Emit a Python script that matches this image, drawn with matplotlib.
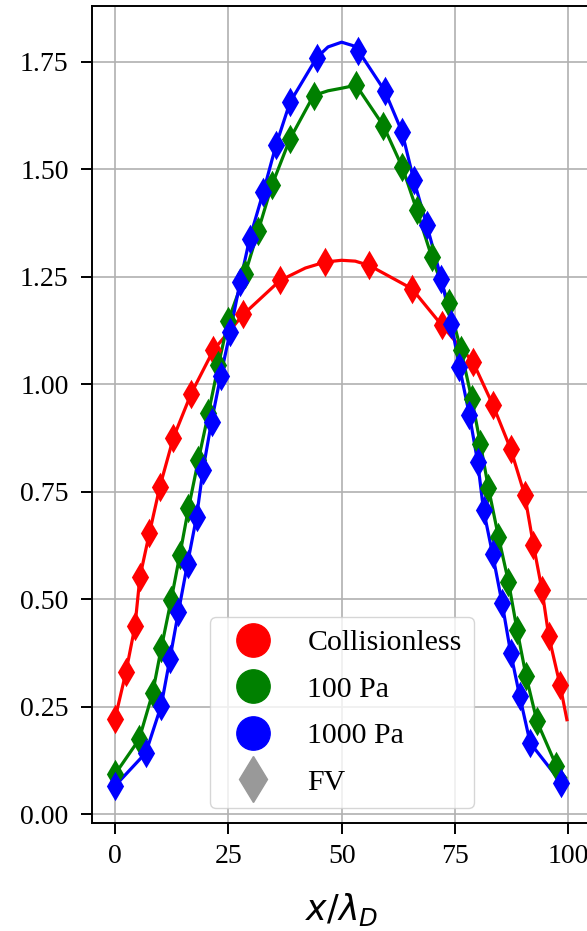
import matplotlib
matplotlib.use('Agg')
import matplotlib.pyplot as plt
from matplotlib.lines import Line2D

plt.rcParams['font.family'] = 'Liberation Serif'
plt.rcParams['mathtext.fontset'] = 'dejavusans'

# FV points
red_x = [0, 2.4, 4.4, 5.5, 7.6, 9.9, 12.9, 16.8, 21.7, 28.3, 36.4, 46.4, 56.1, 65.5, 72.1,
         79.0, 83.4, 87.3, 90.4, 92.3, 94.2, 95.7, 98.2]
red_y = [0.222, 0.330, 0.437, 0.552, 0.654, 0.762, 0.876, 0.978, 1.079, 1.162, 1.241, 1.284,
         1.276, 1.222, 1.137, 1.051, 0.951, 0.849, 0.742, 0.627, 0.522, 0.414, 0.300]

green_x = [0, 5.3, 8.3, 10.2, 12.4, 14.3, 16.2, 18.4, 20.6, 22.8, 25.0, 28.7, 31.6, 34.6, 38.6,
           43.8, 53.2, 59.2, 63.4, 66.6, 69.9, 73.6, 76.3, 78.7, 80.6, 82.4, 84.6, 86.8, 88.7,
           90.7, 93.1, 97.4]
green_y = [0.093, 0.174, 0.282, 0.386, 0.499, 0.603, 0.711, 0.824, 0.932, 1.044, 1.148, 1.256,
           1.357, 1.462, 1.570, 1.671, 1.695, 1.601, 1.504, 1.404, 1.295, 1.189, 1.080, 0.966,
           0.862, 0.758, 0.645, 0.541, 0.429, 0.321, 0.216, 0.112]

blue_x = [0, 6.8, 10.2, 12.1, 14.0, 16.0, 18.0, 19.4, 21.3, 23.3, 25.4, 27.6, 29.7, 32.7, 35.5,
          38.6, 44.5, 53.7, 59.5, 63.3, 65.9, 68.8, 72.0, 74.2, 76.0, 78.2, 80.0, 81.3, 83.3,
          85.4, 87.3, 89.3, 91.6, 98.5]
blue_y = [0.066, 0.143, 0.253, 0.361, 0.471, 0.583, 0.692, 0.800, 0.913, 1.019, 1.121, 1.237,
          1.338, 1.446, 1.555, 1.655, 1.759, 1.775, 1.682, 1.587, 1.475, 1.369, 1.245, 1.140,
          1.040, 0.928, 0.820, 0.708, 0.605, 0.491, 0.375, 0.274, 0.166, 0.073]

# extra points of the solid curves read around the peaks and at the right end
red_extra_x = [42.0, 50.0, 53.0, 99.7]
red_extra_y = [1.270, 1.288, 1.286, 0.220]
green_extra_x = [47.0, 50.0, 99.4]
green_extra_y = [1.682, 1.688, 0.085]
blue_extra_x = [47.0, 50.0, 52.5]
blue_extra_y = [1.784, 1.795, 1.787]

labels = ['Collisionless', '100 Pa', '1000 Pa', 'FV']
colors = ['red', 'green', 'blue']


def curve(xs, ys, ex, ey):
    pts = sorted(zip(xs + ex, ys + ey))
    return [p[0] for p in pts], [p[1] for p in pts]


fig = plt.figure(figsize=(5.87, 9.31), dpi=100)
ax = fig.add_axes([0.1573, 0.1163, 0.8494, 0.8772])

series = [(red_x, red_y, red_extra_x, red_extra_y),
          (green_x, green_y, green_extra_x, green_extra_y),
          (blue_x, blue_y, blue_extra_x, blue_extra_y)]

for (xs, ys, ex, ey), c in zip(series, colors):
    lx, ly = curve(xs, ys, ex, ey)
    ax.plot(lx, ly, '-', color=c, linewidth=2.3, zorder=3)
    ax.plot(xs, ys, 'd', color=c, markersize=12.5, markeredgewidth=2, zorder=4)

ax.set_xlim(-5, 105)
ax.set_ylim(-0.0195, 1.879)
ax.set_xticks([0, 25, 50, 75, 100])
ax.set_yticks([0, 0.25, 0.5, 0.75, 1.0, 1.25, 1.5, 1.75])
ax.set_yticklabels(['0.00', '0.25', '0.50', '0.75', '1.00', '1.25', '1.50', '1.75'])
ax.grid(True, color='#b0b0b0', linewidth=1.2)
ax.tick_params(axis='both', labelsize=20, length=8, width=1.4)
ax.tick_params(axis='x', pad=7)
ax.tick_params(axis='y', pad=9)
for s in ax.spines.values():
    s.set_linewidth(1.4)
ax.set_xlabel(r'$x/\lambda_D$', fontsize=25, labelpad=16)

handles = [Line2D([], [], marker='o', color=c, linestyle='none', markersize=24) for c in colors]
handles.append(Line2D([], [], marker='d', color='#999999', linestyle='none', markersize=23))
ax.legend(handles, labels, loc='lower center', fontsize=21.5, labelspacing=0.66,
          handlelength=2.07, handletextpad=0.8, borderpad=0.4)

plt.savefig('out.png', dpi=100)
